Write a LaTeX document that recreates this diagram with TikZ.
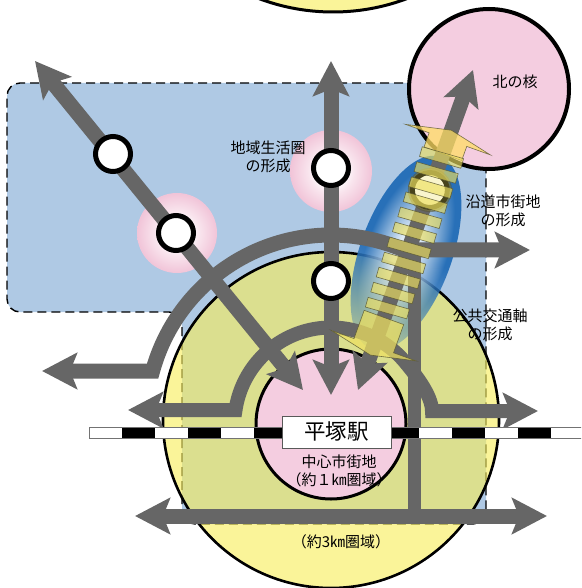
\documentclass[tikz,border=0pt]{standalone}
\usepackage{fontspec}
\newfontfamily\jp{Noto Sans CJK JP}
\usetikzlibrary{arrows.meta,calc,fadings}

\definecolor{regionblue}{RGB}{175,201,228}
\definecolor{ringyellow}{RGB}{247,237,91}
\definecolor{corepink}{RGB}{244,205,224}
\definecolor{roadgray}{RGB}{102,102,102}
\definecolor{glowpink}{RGB}{241,196,216}
\colorlet{glowmid}{white!55!glowpink}
\definecolor{ovaldark}{RGB}{40,112,184}
\definecolor{ovallight}{RGB}{222,234,246}
\colorlet{ovalmid}{ovallight!45!ovaldark}
\definecolor{headyellow}{RGB}{255,222,100}
\definecolor{rungyellow}{RGB}{238,224,96}
\definecolor{rungedge}{RGB}{88,86,48}

% radial shadings: the path outline sits at 25bp
\pgfdeclareradialshading{glow}{\pgfpoint{0bp}{0bp}}{color(0bp)=(white); color(8bp)=(white); color(14bp)=(glowmid); color(25bp)=(glowpink); color(50bp)=(glowpink)}
\pgfdeclareradialshading{oval}{\pgfpoint{0bp}{0bp}}{color(0bp)=(ovallight); color(6bp)=(ovallight); color(15bp)=(ovalmid); color(22bp)=(ovaldark); color(50bp)=(ovaldark)}
\tikzfading[name=ovalfade, left color=transparent!80, right color=transparent!0, middle color=transparent!0]

\tikzset{
  road/.style={draw=roadgray, line width=15pt, line join=miter},
  hub/.style={circle, fill=white, draw=black, line width=5pt, minimum size=35pt, inner sep=0pt},
  rung/.style={rectangle, minimum width=43pt, minimum height=10pt, inner sep=0pt,
    fill=rungyellow, fill opacity=0.65, draw=rungedge, draw opacity=0.8, line width=0.6pt, rotate=-16},
  lbl/.style={font=\jp\fontsize{15}{18}\selectfont, align=center, inner sep=0pt},
  >={Stealth[length=35pt, width=36pt, inset=7pt]},
}

\begin{document}
\begin{tikzpicture}[x=1pt, y=-1pt]
\useasboundingbox (0,0) rectangle (581,588);
\clip (0,0) rectangle (581,588);

% area of the local living zones (dashed outline)
\path[fill=regionblue, draw=black, line width=1.4pt, dash pattern=on 9pt off 5pt, rounded corners=13pt]
  (486,83) -- (7,83) -- (7,312) -- (182,312) -- (182,524) -- (486,524) -- cycle;

% 3 km ring zones
\path[fill=ringyellow, fill opacity=0.62, draw=black, line width=3pt] (333,-198) circle[radius=210pt];
\path[fill=ringyellow, fill opacity=0.62, draw=black, line width=2.6pt] (331,420) circle[radius=168pt];

% northern core
\path[fill=corepink, draw=black, line width=4pt] (489,89) circle[radius=80pt];

% glows of the local living zones
\shade[shading=glow] (177,233) circle[radius=40pt];
\shade[shading=glow] (331,171) circle[radius=41pt];

% central district
\path[fill=corepink, draw=black, line width=3pt] (331,424) circle[radius=75pt];

% roadside district halo
\begin{scope}[transform canvas={shift={(406,253)}, rotate=70.2}]
  \shade[shading=oval, path fading=ovalfade] (0,0) ellipse[x radius=102pt, y radius=46pt];
\end{scope}

% road end points
\coordinate (nwEnd) at (35,61);
\coordinate (nwIn) at (303,390);
\coordinate (nEnd) at (331,61);
\coordinate (nIn) at (331,395);
\coordinate (ntop) at (473,70);
\coordinate (nbot) at (358,390);
\coordinate (outerW) at (42,371);
\coordinate (outerE) at (530,250);
\coordinate (innerW) at (128,410);
\coordinate (innerE) at (538,411);
\coordinate (southW) at (135,516);
\coordinate (southE) at (547,516);
\coordinate (stemTop) at (414,243);
\coordinate (stemBot) at (414,516);

% roads
\draw[road, line width=13pt] (stemTop) -- (stemBot);
\draw[road, <->] (outerW) -- plot[domain=195.36:293.2, samples=80] ({331+185*cos(\x)}, {420+185*sin(\x)}) -- (outerE);
\draw[road, line width=14pt, <->] (innerW) -- plot[domain=188.3:320, samples=80] ({331+96.5*cos(\x)}, {424+96.5*sin(\x)})
  .. controls (414.5,373.5) and (432,395) .. (432,411) -- (innerE);
\draw[road, <->] (southW) -- (southE);
\draw[road, <->] (nwEnd) -- (nwIn);
\draw[road, <->] (nEnd) -- (nIn);
\draw[road, <->] (ntop) -- (nbot);

% hubs
\node[hub] (h1) at (113,154) {};
\node[hub] (h2) at (176,233) {};
\node[hub] (h3) at (331,168) {};
\node[hub] (h4) at (331,281) {};
\node[hub] (h5) at ($(ntop)!0.375!(nbot)$) {};

% public transport axis
\path[fill=rungyellow, fill opacity=0.3, draw=rungedge, draw opacity=0.55, line width=2.2pt] (h5) circle[radius=21pt];
\begin{scope}[shift={(ntop)}, rotate=250.2]
  \path[fill=headyellow, fill opacity=0.75, draw=rungedge, draw opacity=0.8, line width=0.6pt]
    (64,0) -- (74,45) -- (74,20) -- (89,20) -- (89,-20) -- (74,-20) -- (74,-45) -- cycle;
  \path[fill=rungyellow, fill opacity=0.72, draw=rungedge, draw opacity=0.8, line width=0.6pt]
    (263,21) -- (293,21) -- (293,45) -- (303,0) -- (293,-45) -- (293,-21) -- (263,-21) -- cycle;
\end{scope}
\foreach \k in {0,...,10}
  \node[rung] (rung\k) at ($(ntop)!{(93+16*\k)/340}!(nbot)$) {};

% railway
\path[fill=white] (89,427) rectangle (600,438);
\draw[black, line width=10.4pt, dash pattern=on 33pt off 33pt] (122,432.5) -- (600,432.5);
\path[draw=black!55, line width=0.8pt] (89,427) rectangle (600,438);

% station
\node[draw=black!65, line width=0.9pt, fill=white, minimum width=109pt, minimum height=32pt, inner sep=0pt,
  font=\jp\fontsize{21.5}{24}\selectfont] (eki) at (336.5,432) {平塚駅};

% labels
\node[lbl] (lifezone) at (268,157) {地域生活圏\\の形成};
\node[lbl] (roadside) at (503,211) {沿道市街地\\の形成};
\node[lbl] (transit) at (490,325) {公共交通軸\\の形成};
\node[lbl] (kita) at (515,82) {北の核};
\node[lbl] (chushin) at (339,470.5) {中心市街地\\（約１㎞圏域）};
\node[lbl] (ring3) at (341,542) {（約3㎞圏域）};
\end{tikzpicture}
\end{document}
